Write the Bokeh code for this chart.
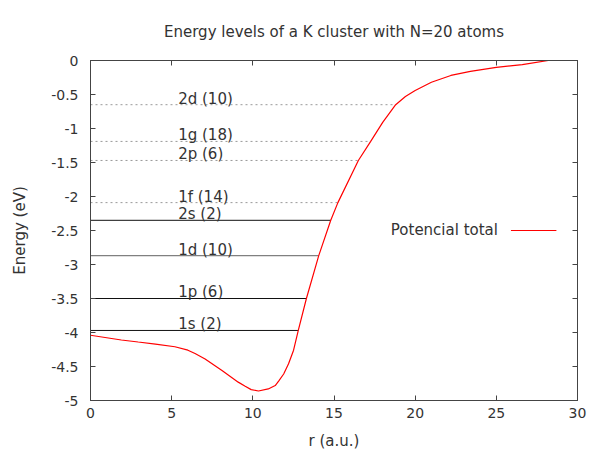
from bokeh.plotting import figure
from bokeh.models import Range1d, LinearAxis, FixedTicker, PrintfTickFormatter
from bokeh.core.properties import value
from bokeh.embed import file_html
from bokeh.resources import INLINE

# --- data ---
r_pot = [0.0, 1.9, 2.94, 4.0, 5.2, 6.0, 6.44, 7.06, 8.1, 9.1, 9.53, 9.9, 10.35,
         10.95, 11.38, 11.6, 11.9, 12.2, 12.51, 12.8, 13.3, 14.06, 14.8, 15.24,
         16.5, 17.26, 18.0, 18.8, 19.4, 20.0, 21.0, 22.2, 23.4, 25.0, 26.6, 28.2]
e_pot = [-4.04, -4.11, -4.14, -4.17, -4.21, -4.26, -4.31, -4.39, -4.56, -4.73,
         -4.79, -4.84, -4.86, -4.83, -4.78, -4.71, -4.61, -4.46, -4.26, -3.97,
         -3.50, -2.87, -2.35, -2.09, -1.47, -1.19, -0.91, -0.65, -0.53, -0.44,
         -0.32, -0.22, -0.16, -0.10, -0.06, 0.0]

level_names = ["1s (2)", "1p (6)", "1d (10)", "2s (2)", "1f (14)", "2p (6)", "1g (18)", "2d (10)"]
level_energy = [-3.97, -3.50, -2.87, -2.35, -2.09, -1.47, -1.19, -0.65]
level_r_turn = [12.8, 13.3, 14.06, 14.8, 15.24, 16.5, 17.26, 18.8]
level_occupied = [True, True, True, True, False, False, False, False]

x_ticks = [0, 5, 10, 15, 20, 25, 30]
y_ticks = [0, -0.5, -1, -1.5, -2, -2.5, -3, -3.5, -4, -4.5, -5]

title_text = "Energy levels of a K cluster with N=20 atoms"
x_label = "r (a.u.)"
y_label = "Energy (eV)"
legend_label = "Potencial total"

# --- styles ---
FONT = "DejaVu Sans"
TXT = "#333333"
AX = "#444444"
occ_colors = {"1d (10)": "#808080"}

p = figure(width=604, height=455, x_range=Range1d(0, 30), y_range=Range1d(-5, 0),
           output_backend="svg", toolbar_location=None,
           min_border_left=90, min_border_right=27, min_border_top=60, min_border_bottom=55)
p.background_fill_color = "white"
p.border_fill_color = "white"
p.grid.visible = False
p.outline_line_color = AX
p.outline_line_width = 1

p.title.text = title_text
p.title.align = "center"
p.title.text_font = FONT
p.title.text_font_size = "15px"
p.title.text_font_style = "normal"
p.title.text_color = TXT
p.title.standoff = 40

for ax in (p.xaxis[0], p.yaxis[0]):
    ax.major_tick_in = 5
    ax.major_tick_out = 0
    ax.minor_tick_line_color = None
    ax.axis_line_color = AX
    ax.major_tick_line_color = AX
    ax.major_label_text_font = FONT
    ax.major_label_text_font_size = "14px"
    ax.major_label_text_color = TXT
    ax.axis_label_text_font = FONT
    ax.axis_label_text_font_size = "15px"
    ax.axis_label_text_font_style = "normal"
    ax.axis_label_text_color = TXT
    ax.formatter = PrintfTickFormatter(format="%g")

p.xaxis[0].ticker = FixedTicker(ticks=x_ticks)
p.yaxis[0].ticker = FixedTicker(ticks=y_ticks)
p.xaxis[0].axis_label = x_label
p.yaxis[0].axis_label = y_label
p.xaxis[0].major_label_standoff = 7
p.xaxis[0].axis_label_standoff = 11
p.yaxis[0].major_label_standoff = 12
p.yaxis[0].axis_label_standoff = 19

# mirrored axes: tick marks only (as minor ticks, no labels)
top = LinearAxis(ticker=FixedTicker(ticks=[], minor_ticks=x_ticks),
                 minor_tick_in=5, minor_tick_out=0, major_tick_in=0, major_tick_out=0,
                 axis_line_color=AX, minor_tick_line_color=AX)
right = LinearAxis(ticker=FixedTicker(ticks=[], minor_ticks=y_ticks),
                   minor_tick_in=5, minor_tick_out=0, major_tick_in=0, major_tick_out=0,
                   axis_line_color=AX, minor_tick_line_color=AX)
p.add_layout(top, "above")
p.add_layout(right, "right")

# energy levels
for name, e, rt, occ in zip(level_names, level_energy, level_r_turn, level_occupied):
    if occ:
        col = occ_colors.get(name, "#111111")
        p.segment(x0=[0], y0=[e], x1=[rt], y1=[e], line_color=col,
                  line_width=1.3 if name in occ_colors else 1)
    else:
        p.segment(x0=[0], y0=[e], x1=[rt], y1=[e], line_color="#999999",
                  line_width=1, line_dash="2 3")
    p.text(x=[5.4], y=[e + 0.09], text=[name], text_font=value(FONT),
           text_font_size="15px", text_color=TXT, text_baseline="middle", text_align="left")

# potential
p.line(r_pot, e_pot, line_color="#ff0000", line_width=1.2)

# legend (gnuplot style: label left, sample right)
p.text(x=[25.1], y=[-2.49], text=[legend_label], text_font=value(FONT),
       text_font_size="15px", text_color=TXT, text_baseline="middle", text_align="right")
p.segment(x0=[25.9], y0=[-2.5], x1=[28.7], y1=[-2.5], line_color="#ff0000", line_width=1.2)

open("out.html", "w").write(file_html(p, INLINE))
